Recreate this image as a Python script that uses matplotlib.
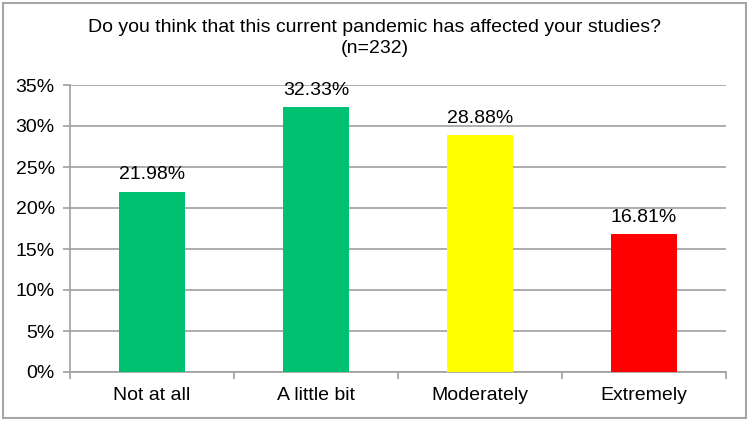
import matplotlib
matplotlib.use("Agg")
import matplotlib.pyplot as plt
from matplotlib.patches import Rectangle
from matplotlib.ticker import FuncFormatter, MultipleLocator, FixedLocator

categories = ["Not at all", "A little bit", "Moderately", "Extremely"]
values = [21.98, 32.33, 28.88, 16.81]
colors = ["#00C072", "#00C072", "#FFFF00", "#FF0000"]
title = "Do you think that this current pandemic has affected your studies?\n(n=232)"

plt.rcParams['font.family'] = ['Liberation Sans', 'DejaVu Sans']

fig = plt.figure(figsize=(7.5, 4.21), dpi=100)
ax = fig.add_axes([70/750, 49/421, 656/750, 287/421])

x = list(range(len(categories)))
ax.bar(x, values, width=0.4, color=colors, zorder=3)
for xi, v in zip(x, values):
    ax.annotate(f"{v:.2f}%", (xi, v), xytext=(0, 6), textcoords="offset points",
                ha="center", va="bottom", fontsize=14)

ax.set_xlim(-0.5, len(categories) - 0.5)
ax.set_ylim(0, 35)
ax.yaxis.set_major_locator(MultipleLocator(5))
ax.yaxis.set_major_formatter(FuncFormatter(lambda v, p: f"{v:.0f}%"))
ax.grid(axis="y", color="#A0A0A0", linewidth=1.2, zorder=0)
ax.set_axisbelow(True)

ax.set_xticks(x)
ax.set_xticklabels(categories, fontsize=14)
ax.tick_params(axis="x", length=0, pad=11)
ax.xaxis.set_minor_locator(FixedLocator([i - 0.5 for i in range(len(categories) + 1)]))
ax.tick_params(axis="x", which="minor", length=5, color="#A0A0A0", width=1.2)
ax.tick_params(axis="y", length=5, color="#A0A0A0", width=1.2, labelsize=14, pad=6)

for s in ["top", "right"]:
    ax.spines[s].set_visible(False)
for s in ["left", "bottom"]:
    ax.spines[s].set_color("#A0A0A0")
    ax.spines[s].set_linewidth(1.2)

fig.text(0.5, 1 - 38/421, title, ha="center", va="center", fontsize=14, linespacing=1.35)

fig.patches.append(Rectangle((3/750, 3/421), 743/750, 415/421, transform=fig.transFigure,
                             fill=False, edgecolor="#A6A6A6", linewidth=1.5))

fig.savefig("out.png", dpi=100)
